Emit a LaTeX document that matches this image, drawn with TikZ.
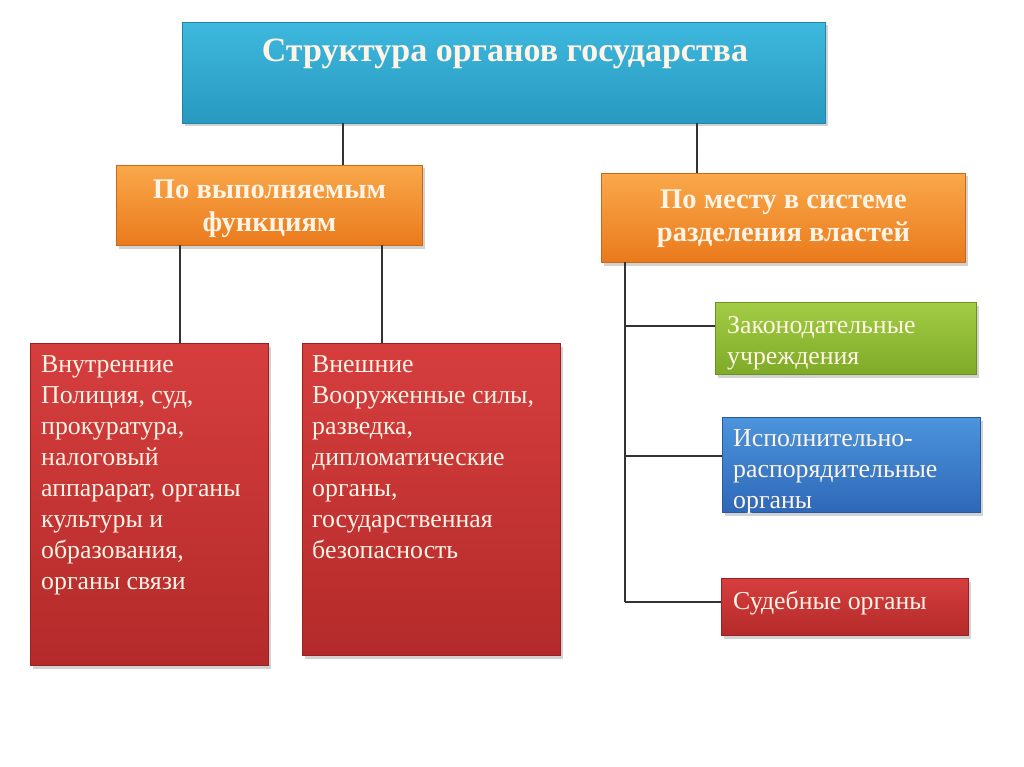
\documentclass[tikz,border=0pt]{standalone}
\usepackage{fontspec}
\setmainfont{Liberation Serif}
\usetikzlibrary{shadows}
\definecolor{cyanT}{HTML}{3EB8DE}
\definecolor{cyanB}{HTML}{2899C0}
\definecolor{cyanD}{HTML}{2484A6}
\definecolor{orT}{HTML}{F9A84A}
\definecolor{orB}{HTML}{EA7A1C}
\definecolor{orD}{HTML}{C8681A}
\definecolor{rdT}{HTML}{D63E3E}
\definecolor{rdB}{HTML}{B42A2A}
\definecolor{rdD}{HTML}{962222}
\definecolor{grT}{HTML}{A2CC44}
\definecolor{grB}{HTML}{7EAA28}
\definecolor{grD}{HTML}{6A9022}
\definecolor{blT}{HTML}{4C94DC}
\definecolor{blB}{HTML}{2E68B8}
\definecolor{blD}{HTML}{285A9E}
\definecolor{txtc}{HTML}{FFF4E6}
\definecolor{linec}{HTML}{333333}
\tikzset{
  boxbase/.style={rectangle, inner sep=0pt, anchor=north west, line width=1pt,
    drop shadow={shadow xshift=2pt, shadow yshift=-3pt, opacity=0.35}},
  cyanbox/.style={boxbase, draw=cyanD, top color=cyanT, bottom color=cyanB},
  orbox/.style={boxbase, draw=orD, top color=orT, bottom color=orB},
  rdbox/.style={boxbase, draw=rdD, top color=rdT, bottom color=rdB},
  grbox/.style={boxbase, draw=grD, top color=grT, bottom color=grB},
  blbox/.style={boxbase, draw=blD, top color=blT, bottom color=blB},
  headtxt/.style={text=txtc, inner sep=0pt, align=center, font=\bfseries\fontsize{28.5}{33}\selectfont},
  bodytxt/.style={text=txtc, inner sep=0pt, align=left, anchor=north west, font=\fontsize{25.8}{31}\selectfont},
  conn/.style={draw=linec, line width=1.2pt}
}
\begin{document}
\begin{tikzpicture}[x=1pt,y=-1pt]
\useasboundingbox (0,0) rectangle (1024,767);
\fill[white] (0,0) rectangle (1024,767);
% top
\node[cyanbox, minimum width=643, minimum height=101] (top) at (182,22) {};
\node[text=txtc, inner sep=0pt, font=\bfseries\fontsize{34}{38}\selectfont] (toptxt) at (505,54) {Структура органов государства};
% level 2
\node[orbox, minimum width=306, minimum height=80] (fun) at (116,165) {};
\node[headtxt] (funtxt) at ([yshift=-3pt]fun.center) {По выполняемым\\функциям};
\node[orbox, minimum width=364, minimum height=89] (pow) at (601,173) {};
\node[headtxt] (powtxt) at ([yshift=-1pt]pow.center) {По месту в системе\\разделения властей};
% level 3 left
\node[rdbox, minimum width=238, minimum height=322] (int) at (30,343) {};
\node[bodytxt] (inttxt) at (41,355) {Внутренние\\Полиция, суд,\\прокуратура,\\налоговый\\аппарарат, органы\\культуры и\\образования,\\органы связи};
\node[rdbox, minimum width=258, minimum height=312] (ext) at (302,343) {};
\node[bodytxt] (exttxt) at (312,355) {Внешние\\Вооруженные силы,\\разведка,\\дипломатические\\органы,\\государственная\\безопасность};
% level 3 right
\node[grbox, minimum width=261, minimum height=72] (leg) at (715,302) {};
\node[bodytxt] (legtxt) at (727,316) {Законодательные\\учреждения};
\node[blbox, minimum width=258, minimum height=95] (exe) at (722,417) {};
\node[bodytxt] (exetxt) at (733,429) {Исполнительно-\\распорядительные\\органы};
\node[rdbox, minimum width=247, minimum height=57] (jud) at (721,578) {};
\node[bodytxt] (judtxt) at (733,591) {Судебные органы};
% connectors
\coordinate (t1) at (343,123);
\coordinate (t2) at (697,123);
\draw[conn] (t1) -- (t1 |- fun.north);
\draw[conn] (t2) -- (t2 |- pow.north);
\coordinate (f1) at (180,245);
\coordinate (f2) at (382,245);
\draw[conn] (f1) -- (f1 |- int.north);
\draw[conn] (f2) -- (f2 |- ext.north);
\coordinate (p0) at (625,262);
\coordinate (pend) at (625,602);
\draw[conn] (p0) -- (pend);
\draw[conn] (625,326) coordinate (h1) -- (h1 -| leg.west);
\draw[conn] (625,456) coordinate (h2) -- (h2 -| exe.west);
\draw[conn] (pend) -- (pend -| jud.west);
\end{tikzpicture}
\end{document}
